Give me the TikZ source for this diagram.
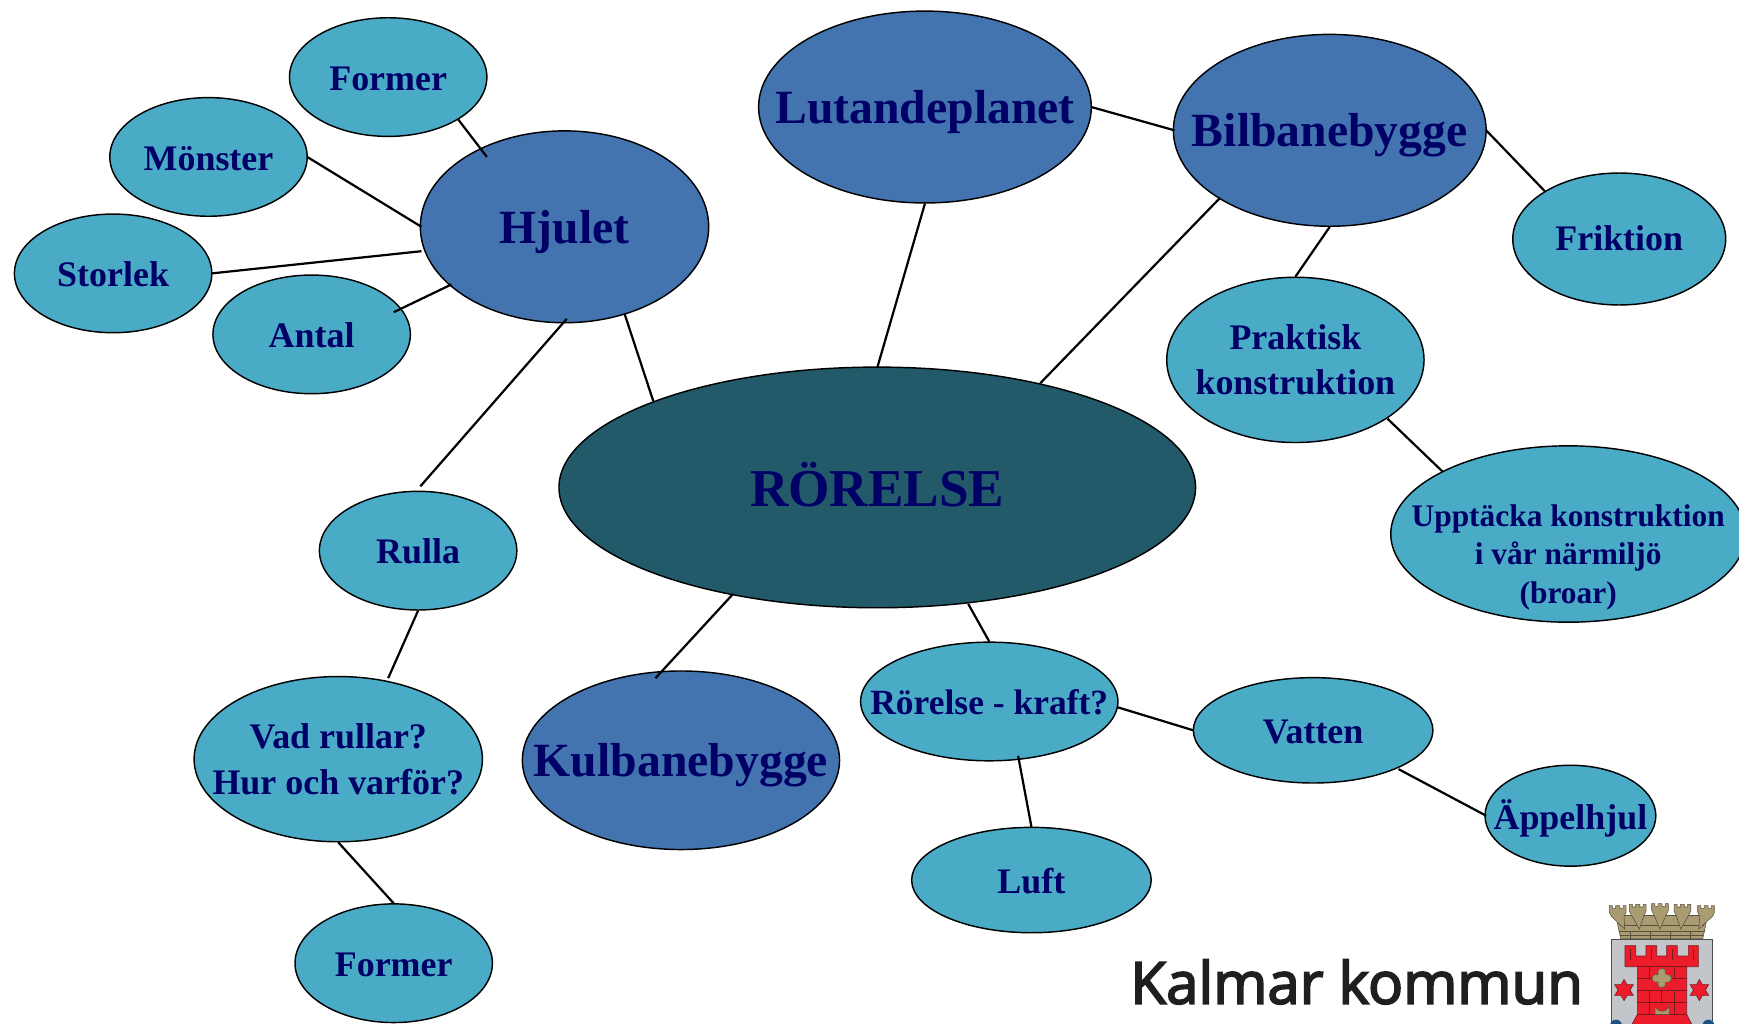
\documentclass[tikz,border=0pt]{standalone}
\usepackage{fontspec}
\setmainfont{Liberation Serif}
\newfontfamily\logofont[FakeBold=3]{Open Sans}
\usetikzlibrary{shapes.geometric}
\definecolor{lightb}{HTML}{4AABC6}
\definecolor{midb}{HTML}{4374AF}
\definecolor{darkt}{HTML}{225A6A}
\definecolor{navytxt}{HTML}{000066}
\definecolor{crown}{HTML}{A99C72}
\definecolor{crownd}{HTML}{5A5238}
\definecolor{shieldg}{HTML}{C2C6CB}
\definecolor{towerr}{HTML}{EC1C2B}
\definecolor{towerd}{HTML}{7A1A20}
\definecolor{wave}{HTML}{1D4F80}
\tikzset{
  bub/.style={ellipse,draw=black,line width=1.3pt,inner sep=0pt,outer sep=0pt},
  lite/.style={bub,fill=lightb},
  mid/.style={bub,fill=midb},
  core/.style={bub,fill=darkt},
  txt/.style={inner sep=0pt,align=center,text=navytxt,font=\bfseries\fontsize{32.4}{41}\selectfont},
  one/.style={txt,text height=22pt,text depth=6pt,yshift=-4pt},
  txtbig/.style={txt,font=\bfseries\fontsize{43}{50}\selectfont,text height=29pt,text depth=9pt,yshift=-5pt},
  link/.style={line width=2pt,black},
  br/.style={draw=towerd,line width=0.45pt},
}
\newcommand{\bb}[7]{\node[#1,minimum width=#4*2pt,minimum height=#5*2pt-1pt] (#2) at ([yshift=-0.5pt]#3) {};
  \node[#6] (#2-t) at (#2.center) {#7};}
\newcommand{\lk}[4]{\draw[link] ([shift={(#2)}]#1.center) -- ([shift={(#4)}]#3.center);}
\begin{document}
\begin{tikzpicture}[x=1pt,y=-1pt]
\useasboundingbox (0,0) rectangle (1568,923.3);
\bb{lite}{forma}{350,69}{89}{54}{one}{Former}
\bb{lite}{monster}{188,141}{89}{54}{one}{Mönster}
\bb{lite}{storlek}{102,246}{89}{54}{one}{Storlek}
\bb{lite}{antal}{281,301}{89}{54}{one}{Antal}
\bb{mid}{hjulet}{509,204}{130}{87}{txtbig}{Hjulet}
\bb{mid}{lutande}{834,96}{150}{87}{txtbig}{Lutandeplanet}
\bb{mid}{bilbana}{1199,117}{141}{87}{txtbig}{Bilbanebygge}
\bb{lite}{friktion}{1460,215}{96}{60}{one,yshift=2pt}{Friktion}
\bb{lite}{praktisk}{1168,324}{116}{75}{txt}{Praktisk\\konstruktion}
\bb{lite}{upptacka}{1414,481}{160}{80}{txt,font=\bfseries\fontsize{28.3}{35}\selectfont,yshift=-21pt}{Upptäcka konstruktion\\i vår närmiljö\\(broar)}
\bb{core}{rorelse}{791,439}{287}{109}{txtbig,font=\bfseries\fontsize{48}{50}\selectfont,text height=30pt,text depth=10pt,yshift=-2pt}{RÖRELSE}
\bb{lite}{rulla}{377,496}{89}{54}{one}{Rulla}
\bb{lite}{vad}{305,684}{130}{75}{txt}{Vad rullar?\\Hur och varför?}
\bb{mid}{kulbana}{614,685}{143}{81}{txtbig}{Kulbanebygge}
\bb{lite}{kraft}{892,632}{116}{54}{one,font=\bfseries\fontsize{32}{41}\selectfont}{Rörelse - kraft?}
\bb{lite}{vatten}{1184,658}{108}{48}{one}{Vatten}
\bb{lite}{appel}{1416,735}{77}{46}{one}{Äppelhjul}
\bb{lite}{luft}{930,793}{108}{48}{one}{Luft}
\bb{lite}{formb}{355,868}{89}{54}{one}{Former}
\lk{forma}{63,38}{hjulet}{-70,-63}
\lk{monster}{89,0}{hjulet}{-129,0}
\lk{storlek}{89,0}{hjulet}{-129,22}
\lk{antal}{74,-20}{hjulet}{-102,52}
\lk{hjulet}{54,78}{rorelse}{-202,-78}
\lk{hjulet}{2,83}{rulla}{2,-58}
\lk{rulla}{0,54}{vad}{45,-73}
\lk{vad}{0,75}{formb}{0,-54}
\lk{lutande}{0,87}{rorelse}{0,-108}
\lk{lutande}{150,0}{bilbana}{-140,0}
\lk{bilbana}{-99,61}{rorelse}{147,-94}
\lk{bilbana}{141,0}{friktion}{-67,-43}
\lk{bilbana}{0,87}{praktisk}{0,-75}
\lk{praktisk}{83,53}{upptacka}{-113,-56}
\lk{rorelse}{-130,96}{kulbana}{-23,-74}
\lk{rorelse}{82,105}{kraft}{0,-54}
\lk{kraft}{115,5}{vatten}{-108,0}
\lk{kraft}{26,49}{luft}{0,-48}
\lk{vatten}{77,35}{appel}{-76,0}
\node[anchor=base west,inner sep=0pt,font=\logofont\fontsize{52.5}{54}\selectfont,text=black!88] (logo) at (1019,905) {Kalmar kommun};
\begin{scope}[shift={(1442.7,807)},x=0.3006pt,y=-0.3006pt]
  \clip (0,0) rectangle (400,387);
  % crown
  \fill[crown,draw=crownd,line width=0.5pt] (62,131) -- (52,85) -- (318,85) -- (308,131) -- cycle;
  \draw[crownd,line width=0.5pt] (56,108) -- (314,108) (90,108) -- (90,131) (150,108) -- (150,131) (210,108) -- (210,131) (270,108) -- (270,131) (60,120) -- (310,120);
  \fill[crown,draw=crownd,line width=0.5pt] (60,60) -- (310,60) -- (310,90) -- (60,90) -- cycle;
  \foreach \c/\b/\t in {53/74/32,113/118/28,180/180/26,247/242/28,318/296/32}{
    \fill[crown,draw=crownd,line width=0.5pt]
      (\b,102) -- (\c-19,\t+32) -- (\c-25,\t+20) -- (\c-25,\t) -- (\c-16,\t) -- (\c-16,\t+8) -- (\c-6,\t+8) -- (\c-6,\t) -- (\c+6,\t) -- (\c+6,\t+8) -- (\c+16,\t+8) -- (\c+16,\t) -- (\c+25,\t) -- (\c+25,\t+20) -- (\c+19,\t+32) -- cycle;
  }
  % shield
  \fill[shieldg,draw=black!70,line width=0.7pt] (33,132) rectangle (337,400);
  % waves
  \foreach \c in {48,118,185,258,325}{\fill[wave] (\c,392) circle (18);}
  % tower
  \fill[towerr,draw=towerd,line width=0.6pt] (75,152) -- (107,152) -- (107,183) -- (138,183) -- (138,152) -- (170,152) -- (170,183) -- (200,183) -- (200,152) -- (232,152) -- (232,183) -- (265,183) -- (265,152) -- (295,152) -- (295,215) -- (260,215) -- (260,358) -- (278,395) -- (92,395) -- (112,358) -- (112,215) -- (75,215) -- cycle;
  \draw[br] (112,215) -- (260,215) (112,250) -- (260,250) (112,287) -- (260,287) (112,323) -- (260,323) (112,358) -- (260,358)
    (148,215) -- (148,250) (222,215) -- (222,250) (185,287) -- (185,323) (148,287) -- (148,323) (222,287) -- (222,323) (148,323) -- (148,358) (222,323) -- (222,358)
    (90,162) -- (90,195) (154,162) -- (154,195) (216,162) -- (216,195) (280,162) -- (280,195);
  % quatrefoil and door
  \fill[crown,draw=crownd,line width=0.4pt] (185,232) circle (12) (168,250) circle (12) (202,250) circle (12) (185,266) circle (12);
  \fill[crown] (173,238) rectangle (197,262);
  \fill[crown,draw=crownd,line width=0.4pt] (165,358) -- (165,328) arc[start angle=180,end angle=0,x radius=21,y radius=21] -- (207,358) -- cycle;
  % stars
  \foreach \c in {72,298}{
    \fill[towerr,draw=towerd,line width=0.5pt] (\c,253) -- (\c+9,269) -- (\c+28,269) -- (\c+18,285) -- (\c+28,301) -- (\c+9,301) -- (\c,317) -- (\c-9,301) -- (\c-28,301) -- (\c-18,285) -- (\c-28,269) -- (\c-9,269) -- cycle;
  }
\end{scope}
\end{tikzpicture}
\end{document}
